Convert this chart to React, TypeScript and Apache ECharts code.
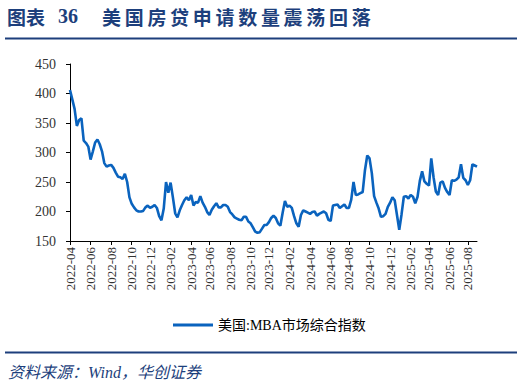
import React, { useEffect, useRef } from 'react';
import * as echarts from 'echarts';

// Weekly observations starting from this date (one value per week)
const START_DATE = '2022-04-01';

// 美国:MBA市场综合指数 (weekly)
const mbaIndex: number[] = [
  406, 390, 374, 345, 355, 358, 320, 316, 310, 288,
  302, 317, 322, 314, 302, 282, 276, 278, 279, 274,
  266, 259, 258, 255, 264, 250, 224, 213, 207, 202,
  200, 200, 201, 207, 210, 206, 208, 211, 206, 192,
  185, 205, 250, 232, 249, 224, 197, 190, 202, 211,
  219, 224, 219, 228, 210, 216, 215, 226, 215, 208,
  199, 194, 203, 209, 214, 207, 207, 211, 211, 208,
  199, 195, 190, 188, 186, 185, 191, 191, 183, 180,
  173, 166, 164, 165, 171, 177, 177, 182, 189, 193,
  189, 180, 176, 198, 218, 208, 210, 206, 192, 180,
  174, 194, 202, 200, 198, 196, 199, 200, 193, 196,
  198, 200, 197, 186, 184, 210, 211, 212, 206, 209,
  212, 206, 206, 220, 250, 228, 229, 231, 233, 270,
  295, 290, 265, 226, 215, 205, 191, 192, 196, 208,
  215, 224, 219, 194, 169, 195, 225, 226, 222, 228,
  225, 214, 225, 252, 268, 251, 247, 244, 290, 258,
  234, 228, 249, 251, 240, 233, 228, 253, 252, 254,
  258, 280, 257, 253, 245, 253, 280, 278, 276,
];

const Y_MIN = 150;
const Y_MAX = 450;
const Y_STEP = 50;
const LABEL_EVERY_MONTHS = 2;

const SERIES_NAME = '美国:MBA市场综合指数';
const TITLE_PREFIX = '图表';
const TITLE_NO = '36';
const TITLE_TEXT = '美国房贷申请数量震荡回落';
const SOURCE_TEXT = '资料来源：Wind，华创证券';

const NAVY = '#1d3f7c';
const LINE_BLUE = '#0a63be';

function weeklyDates(start: string, n: number): string[] {
  const [y, m, d] = start.split('-').map(Number);
  const t0 = Date.UTC(y, m - 1, d);
  const out: string[] = [];
  for (let i = 0; i < n; i++) {
    const dt = new Date(t0 + i * 7 * 86400000);
    const mm = String(dt.getUTCMonth() + 1).padStart(2, '0');
    const dd = String(dt.getUTCDate()).padStart(2, '0');
    out.push(`${dt.getUTCFullYear()}-${mm}-${dd}`);
  }
  return out;
}

const dates = weeklyDates(START_DATE, mbaIndex.length);

function isLabelWeek(_idx: number, value: string): boolean {
  const [y, m, d] = value.split('-').map(Number);
  const [sy, sm] = START_DATE.split('-').map(Number);
  const off = (y - sy) * 12 + (m - sm);
  return d <= 7 && off % LABEL_EVERY_MONTHS === 0;
}

export default function App() {
  const ref = useRef<HTMLDivElement>(null);
  useEffect(() => {
    if (!ref.current) return;
    const chart = echarts.init(ref.current, undefined, { renderer: 'svg' });

    const titleGraphics: any[] = [];
    TITLE_PREFIX.split('').forEach((ch, i) => {
      titleGraphics.push({
        type: 'text', x: 7 + i * 19, y: 16,
        style: { text: ch, fill: NAVY, font: 'bold 19px "Noto Sans CJK SC"', textVerticalAlign: 'middle' },
      });
    });
    titleGraphics.push({
      type: 'text', x: 58, y: 16,
      style: { text: TITLE_NO, fill: NAVY, font: 'bold 20px "Liberation Serif"', textVerticalAlign: 'middle' },
    });
    TITLE_TEXT.split('').forEach((ch, i) => {
      titleGraphics.push({
        type: 'text', x: 102 + i * 22.7, y: 16,
        style: { text: ch, fill: NAVY, font: 'bold 19px "Noto Sans CJK SC"', textVerticalAlign: 'middle' },
      });
    });

    chart.setOption({
      animation: false,
      backgroundColor: '#fff',
      grid: { left: 70, right: 47, top: 64, bottom: 146, containLabel: false },
      xAxis: {
        type: 'category',
        data: dates,
        boundaryGap: false,
        axisLine: { lineStyle: { color: '#000', width: 1 } },
        axisTick: { show: true, interval: isLabelWeek, length: 4, lineStyle: { color: '#000' } },
        axisLabel: {
          interval: isLabelWeek,
          rotate: 90,
          margin: 6,
          color: '#333',
          fontSize: 13,
          fontFamily: '"Liberation Serif"',
          formatter: (v: string) => v.slice(0, 7),
        },
        splitLine: { show: false },
      },
      yAxis: {
        type: 'value',
        min: Y_MIN,
        max: Y_MAX,
        interval: Y_STEP,
        axisLine: { show: true, lineStyle: { color: '#000', width: 1 } },
        axisTick: { show: true, length: 4, lineStyle: { color: '#000' } },
        axisLabel: { color: '#333', fontSize: 14, fontFamily: '"Liberation Serif"', margin: 14 },
        splitLine: { show: false },
      },
      legend: {
        left: 168,
        top: 313,
        itemWidth: 40,
        itemHeight: 3,
        itemGap: 4,
        textStyle: { color: '#000', fontSize: 14, fontFamily: '"Liberation Serif", "Noto Sans CJK SC"' },
        data: [{ name: SERIES_NAME, icon: 'rect', itemStyle: { color: LINE_BLUE } }],
      },
      series: [
        {
          name: SERIES_NAME,
          type: 'line',
          data: mbaIndex,
          symbol: 'none',
          smooth: false,
          lineStyle: { color: LINE_BLUE, width: 2.6 },
          itemStyle: { color: LINE_BLUE },
        },
      ],
      graphic: [
        ...titleGraphics,
        { type: 'line', shape: { x1: 5, y1: 38.5, x2: 517, y2: 38.5 }, style: { stroke: NAVY, lineWidth: 2 } },
        { type: 'line', shape: { x1: 5, y1: 352.5, x2: 517, y2: 352.5 }, style: { stroke: NAVY, lineWidth: 2 } },
        {
          type: 'text', x: 8, y: 372,
          style: {
            text: SOURCE_TEXT, fill: NAVY,
            font: 'italic 16px "Liberation Serif", "Noto Sans CJK SC"',
            textVerticalAlign: 'middle',
          },
        },
      ],
    });
    return () => chart.dispose();
  }, []);
  return <div ref={ref} style={{ width: 524, height: 387, position: 'absolute', left: 0, top: 0 }} />;
}
